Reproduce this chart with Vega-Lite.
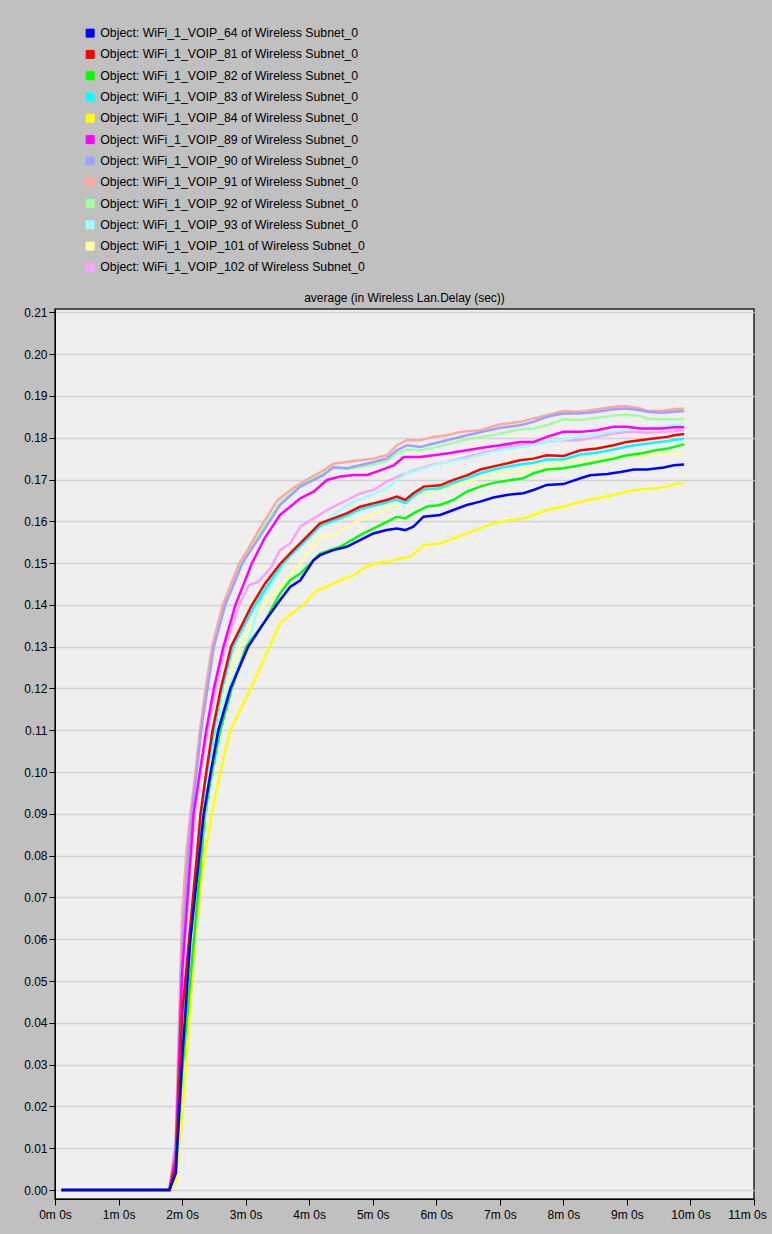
{
"$schema":"https://vega.github.io/schema/vega-lite/v6.json",
"width":699,"height":890,
"autosize":{"type":"none"},
"padding":{"left":55,"top":309,"right":18,"bottom":35},
"background":"#c0c0c0",
"config":{"view":{"fill":"#efefef","stroke":"#222","strokeWidth":1.5},"font":"Liberation Sans"},
"title":{"text":"average (in Wireless Lan.Delay (sec))","font":"Liberation Sans","fontSize":12,"fontWeight":"normal","color":"#000","offset":5,"anchor":"middle","dy":283},
"datasets":{"pts":[
{"s":"102","t":0.1,"v":0},{"s":"102","t":1.8,"v":0},{"s":"102","t":1.9,"v":0.007},{"s":"102","t":2.0,"v":0.05},{"s":"102","t":2.15,"v":0.0813},{"s":"102","t":2.2,"v":0.09},{"s":"102","t":2.29,"v":0.1},{"s":"102","t":2.4,"v":0.11},{"s":"102","t":2.53,"v":0.12},{"s":"102","t":2.68,"v":0.13},{"s":"102","t":2.9,"v":0.14},{"s":"102","t":3.05,"v":0.1447},{"s":"102","t":3.2,"v":0.1455},{"s":"102","t":3.4,"v":0.149},{"s":"102","t":3.54,"v":0.1531},{"s":"102","t":3.7,"v":0.1547},{"s":"102","t":3.86,"v":0.1587},{"s":"102","t":4.07,"v":0.1607},{"s":"102","t":4.28,"v":0.1627},{"s":"102","t":4.49,"v":0.1643},{"s":"102","t":4.8,"v":0.1667},{"s":"102","t":5.01,"v":0.1675},{"s":"102","t":5.22,"v":0.1695},{"s":"102","t":5.43,"v":0.171},{"s":"102","t":5.64,"v":0.1722},{"s":"102","t":5.91,"v":0.1734},{"s":"102","t":6.17,"v":0.1742},{"s":"102","t":6.48,"v":0.1754},{"s":"102","t":6.8,"v":0.1766},{"s":"102","t":7.01,"v":0.1775},{"s":"102","t":7.32,"v":0.1782},{"s":"102","t":7.74,"v":0.179},{"s":"102","t":8.0,"v":0.1794},{"s":"102","t":8.27,"v":0.1794},{"s":"102","t":8.53,"v":0.1802},{"s":"102","t":8.79,"v":0.181},{"s":"102","t":9.05,"v":0.1814},{"s":"102","t":9.32,"v":0.1812},{"s":"102","t":9.64,"v":0.1814},{"s":"102","t":9.9,"v":0.1818},
{"s":"101","t":0.1,"v":0},{"s":"101","t":1.8,"v":0},{"s":"101","t":1.9,"v":0.005},{"s":"101","t":2.0,"v":0.036},{"s":"101","t":2.26,"v":0.0813},{"s":"101","t":2.31,"v":0.09},{"s":"101","t":2.39,"v":0.1},{"s":"101","t":2.51,"v":0.11},{"s":"101","t":2.68,"v":0.12},{"s":"101","t":2.9,"v":0.13},{"s":"101","t":3.23,"v":0.139},{"s":"101","t":3.54,"v":0.1443},{"s":"101","t":3.86,"v":0.1499},{"s":"101","t":4.17,"v":0.1563},{"s":"101","t":4.38,"v":0.1567},{"s":"101","t":4.59,"v":0.1587},{"s":"101","t":4.91,"v":0.1611},{"s":"101","t":5.22,"v":0.1627},{"s":"101","t":5.43,"v":0.1643},{"s":"101","t":5.75,"v":0.1667},{"s":"101","t":6.06,"v":0.1675},{"s":"101","t":6.38,"v":0.1691},{"s":"101","t":6.69,"v":0.1703},{"s":"101","t":7.01,"v":0.1713},{"s":"101","t":7.32,"v":0.1722},{"s":"101","t":7.74,"v":0.1734},{"s":"101","t":8.0,"v":0.1742},{"s":"101","t":8.27,"v":0.1746},{"s":"101","t":8.53,"v":0.175},{"s":"101","t":8.79,"v":0.1754},{"s":"101","t":9.05,"v":0.1756},{"s":"101","t":9.32,"v":0.1758},{"s":"101","t":9.64,"v":0.1761},{"s":"101","t":9.9,"v":0.1762},
{"s":"93","t":0.1,"v":0},{"s":"93","t":1.8,"v":0},{"s":"93","t":1.9,"v":0.005},{"s":"93","t":2.0,"v":0.038},{"s":"93","t":2.25,"v":0.0813},{"s":"93","t":2.31,"v":0.09},{"s":"93","t":2.4,"v":0.1},{"s":"93","t":2.54,"v":0.11},{"s":"93","t":2.72,"v":0.12},{"s":"93","t":3.02,"v":0.13},{"s":"93","t":3.23,"v":0.1411},{"s":"93","t":3.49,"v":0.1467},{"s":"93","t":3.6,"v":0.15},{"s":"93","t":3.91,"v":0.1547},{"s":"93","t":4.33,"v":0.1611},{"s":"93","t":4.65,"v":0.1643},{"s":"93","t":5.17,"v":0.1675},{"s":"93","t":5.54,"v":0.1715},{"s":"93","t":6.05,"v":0.1738},{"s":"93","t":6.47,"v":0.175},{"s":"93","t":6.99,"v":0.177},{"s":"93","t":7.5,"v":0.1782},{"s":"93","t":8.0,"v":0.1796},{"s":"93","t":8.5,"v":0.1808},{"s":"93","t":9.0,"v":0.182},{"s":"93","t":9.5,"v":0.1826},{"s":"93","t":9.9,"v":0.1832},
{"s":"92","t":0.1,"v":0},{"s":"92","t":1.8,"v":0},{"s":"92","t":1.9,"v":0.011},{"s":"92","t":2.0,"v":0.062},{"s":"92","t":2.09,"v":0.0813},{"s":"92","t":2.14,"v":0.09},{"s":"92","t":2.22,"v":0.1},{"s":"92","t":2.29,"v":0.11},{"s":"92","t":2.39,"v":0.12},{"s":"92","t":2.49,"v":0.13},{"s":"92","t":2.66,"v":0.14},{"s":"92","t":2.92,"v":0.15},{"s":"92","t":3.0,"v":0.152},{"s":"92","t":3.25,"v":0.158},{"s":"92","t":3.54,"v":0.1643},{"s":"92","t":3.86,"v":0.1688},{"s":"92","t":4.23,"v":0.1714},{"s":"92","t":4.38,"v":0.1728},{"s":"92","t":4.59,"v":0.1725},{"s":"92","t":4.8,"v":0.173},{"s":"92","t":5.01,"v":0.1736},{"s":"92","t":5.22,"v":0.1744},{"s":"92","t":5.38,"v":0.1762},{"s":"92","t":5.54,"v":0.1772},{"s":"92","t":5.75,"v":0.177},{"s":"92","t":5.96,"v":0.1776},{"s":"92","t":6.17,"v":0.1784},{"s":"92","t":6.48,"v":0.1796},{"s":"92","t":6.95,"v":0.1808},{"s":"92","t":7.32,"v":0.182},{"s":"92","t":7.53,"v":0.1822},{"s":"92","t":7.74,"v":0.183},{"s":"92","t":8.0,"v":0.1844},{"s":"92","t":8.27,"v":0.1842},{"s":"92","t":8.53,"v":0.1848},{"s":"92","t":8.79,"v":0.1853},{"s":"92","t":9.0,"v":0.1855},{"s":"92","t":9.21,"v":0.1852},{"s":"92","t":9.32,"v":0.1846},{"s":"92","t":9.53,"v":0.1844},{"s":"92","t":9.74,"v":0.1844},{"s":"92","t":9.9,"v":0.1844},
{"s":"91","t":0.1,"v":0},{"s":"91","t":1.8,"v":0},{"s":"91","t":1.9,"v":0.012},{"s":"91","t":2.0,"v":0.066},{"s":"91","t":2.07,"v":0.0813},{"s":"91","t":2.13,"v":0.09},{"s":"91","t":2.21,"v":0.1},{"s":"91","t":2.28,"v":0.11},{"s":"91","t":2.37,"v":0.12},{"s":"91","t":2.47,"v":0.13},{"s":"91","t":2.64,"v":0.14},{"s":"91","t":2.9,"v":0.15},{"s":"91","t":3.0,"v":0.1524},{"s":"91","t":3.25,"v":0.159},{"s":"91","t":3.5,"v":0.165},{"s":"91","t":3.75,"v":0.168},{"s":"91","t":4.0,"v":0.1703},{"s":"91","t":4.23,"v":0.1722},{"s":"91","t":4.38,"v":0.1738},{"s":"91","t":4.59,"v":0.1742},{"s":"91","t":4.8,"v":0.1746},{"s":"91","t":5.01,"v":0.175},{"s":"91","t":5.22,"v":0.1758},{"s":"91","t":5.38,"v":0.1782},{"s":"91","t":5.54,"v":0.1794},{"s":"91","t":5.75,"v":0.1794},{"s":"91","t":5.96,"v":0.1802},{"s":"91","t":6.17,"v":0.1806},{"s":"91","t":6.38,"v":0.1814},{"s":"91","t":6.69,"v":0.1818},{"s":"91","t":7.01,"v":0.1832},{"s":"91","t":7.32,"v":0.1838},{"s":"91","t":7.53,"v":0.1846},{"s":"91","t":7.74,"v":0.1854},{"s":"91","t":8.0,"v":0.1864},{"s":"91","t":8.27,"v":0.1862},{"s":"91","t":8.53,"v":0.1868},{"s":"91","t":8.79,"v":0.1874},{"s":"91","t":9.0,"v":0.1876},{"s":"91","t":9.21,"v":0.187},{"s":"91","t":9.32,"v":0.1864},{"s":"91","t":9.53,"v":0.1864},{"s":"91","t":9.74,"v":0.1868},{"s":"91","t":9.9,"v":0.187},
{"s":"90","t":0.1,"v":0},{"s":"90","t":1.8,"v":0},{"s":"90","t":1.9,"v":0.01},{"s":"90","t":2.0,"v":0.058},{"s":"90","t":2.1,"v":0.0813},{"s":"90","t":2.15,"v":0.09},{"s":"90","t":2.23,"v":0.1},{"s":"90","t":2.3,"v":0.11},{"s":"90","t":2.4,"v":0.12},{"s":"90","t":2.5,"v":0.13},{"s":"90","t":2.68,"v":0.14},{"s":"90","t":2.95,"v":0.15},{"s":"90","t":3.25,"v":0.157},{"s":"90","t":3.54,"v":0.1639},{"s":"90","t":3.86,"v":0.1683},{"s":"90","t":4.23,"v":0.1711},{"s":"90","t":4.38,"v":0.173},{"s":"90","t":4.59,"v":0.1727},{"s":"90","t":4.8,"v":0.1734},{"s":"90","t":5.01,"v":0.1742},{"s":"90","t":5.22,"v":0.175},{"s":"90","t":5.38,"v":0.177},{"s":"90","t":5.54,"v":0.1782},{"s":"90","t":5.75,"v":0.1778},{"s":"90","t":5.96,"v":0.1786},{"s":"90","t":6.17,"v":0.1794},{"s":"90","t":6.48,"v":0.1806},{"s":"90","t":7.01,"v":0.1824},{"s":"90","t":7.32,"v":0.183},{"s":"90","t":7.53,"v":0.1838},{"s":"90","t":7.74,"v":0.185},{"s":"90","t":8.0,"v":0.1858},{"s":"90","t":8.27,"v":0.1858},{"s":"90","t":8.53,"v":0.1862},{"s":"90","t":8.79,"v":0.1868},{"s":"90","t":9.0,"v":0.187},{"s":"90","t":9.21,"v":0.1866},{"s":"90","t":9.32,"v":0.1862},{"s":"90","t":9.53,"v":0.186},{"s":"90","t":9.74,"v":0.1862},{"s":"90","t":9.9,"v":0.1864},
{"s":"89","t":0.1,"v":0},{"s":"89","t":1.8,"v":0},{"s":"89","t":1.9,"v":0.008},{"s":"89","t":2.0,"v":0.052},{"s":"89","t":2.14,"v":0.0813},{"s":"89","t":2.18,"v":0.09},{"s":"89","t":2.28,"v":0.1},{"s":"89","t":2.38,"v":0.11},{"s":"89","t":2.5,"v":0.12},{"s":"89","t":2.65,"v":0.13},{"s":"89","t":2.84,"v":0.14},{"s":"89","t":3.1,"v":0.15},{"s":"89","t":3.3,"v":0.156},{"s":"89","t":3.54,"v":0.1615},{"s":"89","t":3.7,"v":0.1635},{"s":"89","t":3.86,"v":0.1655},{"s":"89","t":4.07,"v":0.1671},{"s":"89","t":4.28,"v":0.1699},{"s":"89","t":4.49,"v":0.1707},{"s":"89","t":4.7,"v":0.1711},{"s":"89","t":4.91,"v":0.1711},{"s":"89","t":5.12,"v":0.1722},{"s":"89","t":5.33,"v":0.1734},{"s":"89","t":5.49,"v":0.1754},{"s":"89","t":5.75,"v":0.1754},{"s":"89","t":5.96,"v":0.1758},{"s":"89","t":6.17,"v":0.1762},{"s":"89","t":6.48,"v":0.177},{"s":"89","t":6.8,"v":0.1778},{"s":"89","t":7.01,"v":0.1782},{"s":"89","t":7.32,"v":0.179},{"s":"89","t":7.53,"v":0.179},{"s":"89","t":7.74,"v":0.1802},{"s":"89","t":8.0,"v":0.1814},{"s":"89","t":8.27,"v":0.1814},{"s":"89","t":8.53,"v":0.1818},{"s":"89","t":8.79,"v":0.1826},{"s":"89","t":9.0,"v":0.1826},{"s":"89","t":9.21,"v":0.1822},{"s":"89","t":9.53,"v":0.1822},{"s":"89","t":9.74,"v":0.1825},{"s":"89","t":9.9,"v":0.1825},
{"s":"84","t":0.1,"v":0},{"s":"84","t":1.8,"v":0},{"s":"84","t":1.9,"v":0.002},{"s":"84","t":2.0,"v":0.018},{"s":"84","t":2.1,"v":0.038},{"s":"84","t":2.2,"v":0.06},{"s":"84","t":2.3,"v":0.074},{"s":"84","t":2.37,"v":0.0813},{"s":"84","t":2.47,"v":0.09},{"s":"84","t":2.6,"v":0.1},{"s":"84","t":2.76,"v":0.11},{"s":"84","t":3.08,"v":0.12},{"s":"84","t":3.38,"v":0.13},{"s":"84","t":3.54,"v":0.1356},{"s":"84","t":3.7,"v":0.1376},{"s":"84","t":3.91,"v":0.14},{"s":"84","t":4.12,"v":0.1435},{"s":"84","t":4.28,"v":0.1443},{"s":"84","t":4.49,"v":0.1459},{"s":"84","t":4.7,"v":0.1471},{"s":"84","t":4.85,"v":0.1487},{"s":"84","t":5.01,"v":0.1499},{"s":"84","t":5.22,"v":0.1503},{"s":"84","t":5.43,"v":0.1511},{"s":"84","t":5.59,"v":0.1515},{"s":"84","t":5.8,"v":0.1543},{"s":"84","t":6.06,"v":0.1547},{"s":"84","t":6.27,"v":0.1559},{"s":"84","t":6.48,"v":0.1571},{"s":"84","t":6.69,"v":0.1583},{"s":"84","t":6.9,"v":0.1595},{"s":"84","t":7.11,"v":0.1602},{"s":"84","t":7.37,"v":0.1607},{"s":"84","t":7.53,"v":0.1615},{"s":"84","t":7.74,"v":0.1627},{"s":"84","t":8.0,"v":0.1635},{"s":"84","t":8.27,"v":0.1647},{"s":"84","t":8.53,"v":0.1655},{"s":"84","t":8.79,"v":0.1663},{"s":"84","t":9.0,"v":0.1671},{"s":"84","t":9.21,"v":0.1676},{"s":"84","t":9.42,"v":0.1679},{"s":"84","t":9.64,"v":0.1683},{"s":"84","t":9.74,"v":0.1689},{"s":"84","t":9.9,"v":0.1691},
{"s":"83","t":0.1,"v":0},{"s":"83","t":1.8,"v":0},{"s":"83","t":1.9,"v":0.005},{"s":"83","t":2.0,"v":0.04},{"s":"83","t":2.26,"v":0.0813},{"s":"83","t":2.3,"v":0.09},{"s":"83","t":2.39,"v":0.1},{"s":"83","t":2.5,"v":0.11},{"s":"83","t":2.63,"v":0.12},{"s":"83","t":2.8,"v":0.13},{"s":"83","t":3.15,"v":0.14},{"s":"83","t":3.54,"v":0.1492},{"s":"83","t":3.75,"v":0.1526},{"s":"83","t":3.96,"v":0.1557},{"s":"83","t":4.17,"v":0.1589},{"s":"83","t":4.38,"v":0.1601},{"s":"83","t":4.59,"v":0.1613},{"s":"83","t":4.8,"v":0.1629},{"s":"83","t":5.01,"v":0.1637},{"s":"83","t":5.22,"v":0.1645},{"s":"83","t":5.38,"v":0.1652},{"s":"83","t":5.51,"v":0.1643},{"s":"83","t":5.64,"v":0.166},{"s":"83","t":5.8,"v":0.1676},{"s":"83","t":6.06,"v":0.1679},{"s":"83","t":6.27,"v":0.1692},{"s":"83","t":6.48,"v":0.1703},{"s":"83","t":6.69,"v":0.1715},{"s":"83","t":7.01,"v":0.1728},{"s":"83","t":7.32,"v":0.1736},{"s":"83","t":7.53,"v":0.174},{"s":"83","t":7.74,"v":0.1748},{"s":"83","t":8.0,"v":0.1748},{"s":"83","t":8.27,"v":0.176},{"s":"83","t":8.53,"v":0.1764},{"s":"83","t":8.79,"v":0.1772},{"s":"83","t":9.0,"v":0.1779},{"s":"83","t":9.21,"v":0.1784},{"s":"83","t":9.42,"v":0.1788},{"s":"83","t":9.64,"v":0.1792},{"s":"83","t":9.74,"v":0.1795},{"s":"83","t":9.9,"v":0.1797},
{"s":"82","t":0.1,"v":0},{"s":"82","t":1.8,"v":0},{"s":"82","t":1.9,"v":0.004},{"s":"82","t":2.0,"v":0.028},{"s":"82","t":2.31,"v":0.0813},{"s":"82","t":2.36,"v":0.09},{"s":"82","t":2.47,"v":0.1},{"s":"82","t":2.6,"v":0.11},{"s":"82","t":2.78,"v":0.12},{"s":"82","t":3.01,"v":0.13},{"s":"82","t":3.3,"v":0.136},{"s":"82","t":3.54,"v":0.1427},{"s":"82","t":3.7,"v":0.1459},{"s":"82","t":3.86,"v":0.1475},{"s":"82","t":4.07,"v":0.1507},{"s":"82","t":4.17,"v":0.1523},{"s":"82","t":4.49,"v":0.1539},{"s":"82","t":4.8,"v":0.1567},{"s":"82","t":5.12,"v":0.1591},{"s":"82","t":5.38,"v":0.1611},{"s":"82","t":5.51,"v":0.1607},{"s":"82","t":5.64,"v":0.1619},{"s":"82","t":5.85,"v":0.1635},{"s":"82","t":6.06,"v":0.1639},{"s":"82","t":6.27,"v":0.1651},{"s":"82","t":6.48,"v":0.1671},{"s":"82","t":6.69,"v":0.1683},{"s":"82","t":6.9,"v":0.1692},{"s":"82","t":7.11,"v":0.1697},{"s":"82","t":7.37,"v":0.1703},{"s":"82","t":7.53,"v":0.1715},{"s":"82","t":7.74,"v":0.1724},{"s":"82","t":8.0,"v":0.1727},{"s":"82","t":8.27,"v":0.1734},{"s":"82","t":8.53,"v":0.1742},{"s":"82","t":8.79,"v":0.175},{"s":"82","t":9.0,"v":0.1758},{"s":"82","t":9.21,"v":0.1762},{"s":"82","t":9.42,"v":0.1769},{"s":"82","t":9.64,"v":0.1774},{"s":"82","t":9.9,"v":0.1784},
{"s":"81","t":0.1,"v":0},{"s":"81","t":1.8,"v":0},{"s":"81","t":1.9,"v":0.006},{"s":"81","t":2.0,"v":0.042},{"s":"81","t":2.24,"v":0.0813},{"s":"81","t":2.29,"v":0.09},{"s":"81","t":2.38,"v":0.1},{"s":"81","t":2.48,"v":0.11},{"s":"81","t":2.61,"v":0.12},{"s":"81","t":2.77,"v":0.13},{"s":"81","t":3.1,"v":0.14},{"s":"81","t":3.3,"v":0.145},{"s":"81","t":3.54,"v":0.1498},{"s":"81","t":3.75,"v":0.1531},{"s":"81","t":3.96,"v":0.1563},{"s":"81","t":4.17,"v":0.1595},{"s":"81","t":4.38,"v":0.1607},{"s":"81","t":4.59,"v":0.1619},{"s":"81","t":4.8,"v":0.1635},{"s":"81","t":5.01,"v":0.1643},{"s":"81","t":5.22,"v":0.1651},{"s":"81","t":5.38,"v":0.1659},{"s":"81","t":5.51,"v":0.1651},{"s":"81","t":5.64,"v":0.1667},{"s":"81","t":5.8,"v":0.1683},{"s":"81","t":6.06,"v":0.1686},{"s":"81","t":6.27,"v":0.1699},{"s":"81","t":6.48,"v":0.171},{"s":"81","t":6.69,"v":0.1724},{"s":"81","t":7.01,"v":0.1735},{"s":"81","t":7.32,"v":0.1746},{"s":"81","t":7.53,"v":0.175},{"s":"81","t":7.74,"v":0.1758},{"s":"81","t":8.0,"v":0.1756},{"s":"81","t":8.27,"v":0.177},{"s":"81","t":8.53,"v":0.1774},{"s":"81","t":8.79,"v":0.1782},{"s":"81","t":9.0,"v":0.179},{"s":"81","t":9.21,"v":0.1794},{"s":"81","t":9.42,"v":0.1798},{"s":"81","t":9.64,"v":0.1802},{"s":"81","t":9.74,"v":0.1806},{"s":"81","t":9.9,"v":0.1809},
{"s":"64","t":0.1,"v":0},{"s":"64","t":1.8,"v":0},{"s":"64","t":1.9,"v":0.004},{"s":"64","t":2.0,"v":0.031},{"s":"64","t":2.13,"v":0.0598},{"s":"64","t":2.28,"v":0.0813},{"s":"64","t":2.34,"v":0.09},{"s":"64","t":2.45,"v":0.1},{"s":"64","t":2.57,"v":0.11},{"s":"64","t":2.76,"v":0.12},{"s":"64","t":3.04,"v":0.13},{"s":"64","t":3.3,"v":0.136},{"s":"64","t":3.54,"v":0.1411},{"s":"64","t":3.7,"v":0.1443},{"s":"64","t":3.86,"v":0.1459},{"s":"64","t":4.07,"v":0.1507},{"s":"64","t":4.17,"v":0.1519},{"s":"64","t":4.38,"v":0.1531},{"s":"64","t":4.59,"v":0.1539},{"s":"64","t":4.8,"v":0.1555},{"s":"64","t":5.01,"v":0.1571},{"s":"64","t":5.22,"v":0.1579},{"s":"64","t":5.38,"v":0.1583},{"s":"64","t":5.51,"v":0.1579},{"s":"64","t":5.64,"v":0.1587},{"s":"64","t":5.8,"v":0.1611},{"s":"64","t":6.06,"v":0.1615},{"s":"64","t":6.27,"v":0.1627},{"s":"64","t":6.48,"v":0.1639},{"s":"64","t":6.69,"v":0.1647},{"s":"64","t":6.9,"v":0.1657},{"s":"64","t":7.11,"v":0.1663},{"s":"64","t":7.37,"v":0.1667},{"s":"64","t":7.53,"v":0.1675},{"s":"64","t":7.74,"v":0.1687},{"s":"64","t":8.0,"v":0.1689},{"s":"64","t":8.27,"v":0.1703},{"s":"64","t":8.42,"v":0.171},{"s":"64","t":8.69,"v":0.1713},{"s":"64","t":8.9,"v":0.1718},{"s":"64","t":9.11,"v":0.1724},{"s":"64","t":9.32,"v":0.1724},{"s":"64","t":9.58,"v":0.1729},{"s":"64","t":9.74,"v":0.1734},{"s":"64","t":9.9,"v":0.1736}
]},
"data":{"name":"pts"},
"mark":{"type":"line","strokeWidth":2.5,"clip":true,"interpolate":"linear"},
"encoding":{
"x":{"field":"t","type":"quantitative","scale":{"domain":[0,11],"nice":false,"zero":false},
"axis":{"values":[0,1,2,3,4,5,6,7,8,9,10,11],"labelExpr":"datum.value + 'm 0s'","title":null,"grid":false,"tickSize":6,"tickColor":"#000","domainColor":"#000","labelFont":"Liberation Sans","labelFontSize":12,"labelColor":"#000","labelPadding":4,"labelFlush":false,"labelOverlap":false,
"labelOffset":{"condition":{"test":"datum.value == 11","value":-7},"value":0}}},
"y":{"field":"v","type":"quantitative","scale":{"domain":[-0.00215,0.2108],"nice":false,"zero":false},
"axis":{"values":[0,0.01,0.02,0.03,0.04,0.05,0.06,0.07,0.08,0.09,0.1,0.11,0.12,0.13,0.14,0.15,0.16,0.17,0.18,0.19,0.2,0.21],"format":".2f","title":null,"grid":true,"gridColor":"#d2d2d2","gridWidth":1.5,"tickSize":6,"tickColor":"#000","domainColor":"#000","labelFont":"Liberation Sans","labelFontSize":12,"labelColor":"#000","labelPadding":2,"labelOverlap":false}},
"color":{"field":"s","type":"nominal",
"scale":{"domain":["64","81","82","83","84","89","90","91","92","93","101","102"],"range":["#0000ff","#ff0000","#00ff00","#00ffff","#ffff00","#ff00ff","#a0a0ff","#ffa8a0","#a0ffa0","#a0ffff","#ffffa0","#ffa0ff"]},
"legend":{"orient":"none","legendX":29,"legendY":-282,"title":null,"symbolType":"square","symbolSize":64,"symbolStrokeWidth":1,"labelFont":"Liberation Sans","labelFontSize":12.3,"labelColor":"#000","rowPadding":8.3,"labelOffset":4,"labelLimit":400,
"labelExpr":"'Object: WiFi_1_VOIP_' + datum.label + ' of Wireless Subnet_0'",
"encode":{"symbols":{"update":{"fill":{"scale":"color","field":"value"},"stroke":{"value":"#000"},"fillOpacity":{"value":1}}}}}}
}
}
